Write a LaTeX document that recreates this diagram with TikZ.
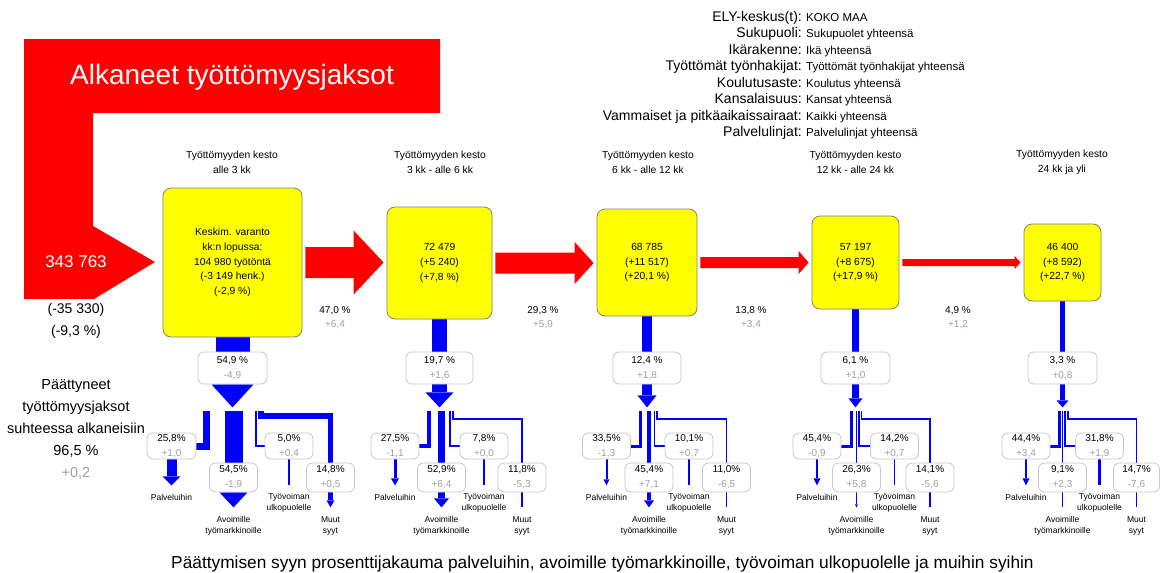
\documentclass[tikz,border=0pt]{standalone}
\usepackage{fontspec}
\setmainfont{Liberation Sans}
\usetikzlibrary{calc,backgrounds}
\definecolor{flowred}{RGB}{255,0,0}
\definecolor{flowblue}{RGB}{0,0,255}
\definecolor{boxyellow}{RGB}{255,255,0}
\definecolor{deltagray}{RGB}{160,160,160}
\newcommand\fsz[2]{\fontsize{#1}{#2}\selectfont}
\newcommand\dg[1]{\textcolor{deltagray}{#1}}
% start, stem length, stem width, half head width, head length
\newcommand\bluedown[5]{%
  \fill[flowblue] ($#1+(-#3/2,0)$) rectangle ($#1+(#3/2,#2)$);
  \fill[flowblue] ($#1+(-#4,#2)$) -- ($#1+(#4,#2)$) -- ($#1+(0,#2+#5)$) -- cycle;}
% from node, to node, shaft width, head width, head length
\newcommand\redarrow[5]{%
  \fill[flowred] let \p1=($(#1.east)+(3,0)$), \p2=($(#2.west)+(-3,0)$) in
   (\x1,{\y1+#3/2}) -- ({\x2-#5},{\y1+#3/2}) -- ({\x2-#5},{\y1+#4/2}) -- (\x2,\y1)
   -- ({\x2-#5},{\y1-#4/2}) -- ({\x2-#5},{\y1-#3/2}) -- (\x1,{\y1-#3/2}) -- cycle;}
\begin{document}
\begin{tikzpicture}[x=1pt,y=-1pt,
  ybox/.style={draw=black!50, fill=boxyellow, rounded corners=8pt, line width=0.8pt, inner sep=0pt, align=center, font=\fsz{10.3}{14.7}},
  pbox/.style={draw=black!22, fill=white, rounded corners=6pt, line width=0.8pt, inner sep=0pt, align=center, font=\fsz{10}{15}},
  bbox/.style={pbox, minimum width=48pt},
  pt/.style={bbox, minimum height=26pt},
  am/.style={bbox, minimum height=29pt},
  hdr/.style={inner sep=0pt, align=center, font=\fsz{10.3}{15}},
  flowlab/.style={inner sep=0pt, align=center, font=\fsz{10}{14}},
  endlab/.style={inner sep=0pt, align=center, font=\fsz{8.5}{11}},
  legkey/.style={inner sep=0pt, anchor=base east, font=\fsz{14}{16}},
  legval/.style={inner sep=0pt, anchor=base west, font=\fsz{11.5}{14}},
  flow/.style={draw=flowblue}
]
\useasboundingbox (0,0) rectangle (1160,573);

% ---- big start arrow
\fill[flowred] (24,39) -- (440,39) -- (440,113) -- (93,113) -- (93,226) -- (155,262) -- (94,299) -- (24,299) -- cycle;
\node[text=white, font=\fsz{28}{32}, inner sep=0pt, anchor=base] (title) at (232,84) {Alkaneet työttömyysjaksot};
\node[text=white, font=\fsz{17}{20}, inner sep=0pt] (start) at (76,262) {343 763};
\node[font=\fsz{14}{22}, inner sep=0pt, align=center] (startd) at (76,321) {(-35 330)\\(-9,3 \%)};
\node[font=\fsz{14.5}{22}, inner sep=0pt, align=center] (ended) at (76,429) {Päättyneet\\työttömyysjaksot\\suhteessa alkaneisiin\\96,5 \%\\\dg{+0,2}};

% ---- legend
\foreach \k/\v [count=\i from 0] in {ELY-keskus(t):/KOKO MAA, Sukupuoli:/Sukupuolet yhteensä, Ikärakenne:/Ikä yhteensä, Työttömät työnhakijat:/Työttömät työnhakijat yhteensä, Koulutusaste:/Koulutus yhteensä, Kansalaisuus:/Kansat yhteensä, Vammaiset ja pitkäaikaissairaat:/Kaikki yhteensä, Palvelulinjat:/Palvelulinjat yhteensä} {
  \node[legkey] (lk\i) at (802,{21.5+16.45*\i}) {\k};
  \node[legval] (lv\i) at (806,{21.5+16.45*\i}) {\v};
}

% ---- headers
\node[hdr] (h1) at (232,162.5) {Työttömyyden kesto\\alle 3 kk};
\node[hdr] (h2) at (440,162.5) {Työttömyyden kesto\\3 kk - alle 6 kk};
\node[hdr] (h3) at (648,162.5) {Työttömyyden kesto\\6 kk - alle 12 kk};
\node[hdr] (h4) at (855.5,162.5) {Työttömyyden kesto\\12 kk - alle 24 kk};
\node[hdr] (h5) at (1062,162.5) {Työttömyyden kesto\\24 kk ja yli};

% ---- yellow boxes
\node[ybox, minimum width=139pt, minimum height=149pt] (box1) at (232.5,262.5) {Keskim. varanto\\kk:n lopussa:\\104 980 työtöntä\\(-3 149 henk.)\\(-2,9 \%)};
\node[ybox, minimum width=105pt, minimum height=112pt] (box2) at (439.5,263) {72 479\\(+5 240)\\(+7,8 \%)};
\node[ybox, minimum width=100pt, minimum height=107pt] (box3) at (647,262.5) {68 785\\(+11 517)\\(+20,1 \%)};
\node[ybox, minimum width=87pt, minimum height=93pt] (box4) at (855.5,262.5) {57 197\\(+8 675)\\(+17,9 \%)};
\node[ybox, minimum width=77pt, minimum height=77pt] (box5) at (1062.5,262.5) {46 400\\(+8 592)\\(+22,7 \%)};

% ---- transition arrows and labels
\redarrow{box1}{box2}{31}{64}{30}
\redarrow{box2}{box3}{21}{42}{19}
\redarrow{box3}{box4}{11}{23}{10}
\redarrow{box4}{box5}{7}{13}{6}
\node[flowlab] (f1) at (335,318) {47,0 \%\\\dg{+6,4}};
\node[flowlab] (f2) at (543,318) {29,3 \%\\\dg{+5,9}};
\node[flowlab] (f3) at (751,318) {13,8 \%\\\dg{+3,4}};
\node[flowlab] (f4) at (958,318) {4,9 \%\\\dg{+1,2}};

% ---- ended-share boxes
\node[pbox, minimum width=69pt, minimum height=32pt] (pc1) at (232.5,368) {54,9 \%\\\dg{-4,9}};
\node[pbox, minimum width=67pt, minimum height=32pt] (pc2) at (439.5,368) {19,7 \%\\\dg{+1,6}};
\node[pbox, minimum width=68pt, minimum height=32pt] (pc3) at (647,368) {12,4 \%\\\dg{+1,8}};
\node[pbox, minimum width=69pt, minimum height=32pt] (pc4) at (855.5,368) {6,1 \%\\\dg{+1,0}};
\node[pbox, minimum width=69pt, minimum height=32pt] (pc5) at (1062.5,368) {3,3 \%\\\dg{+0,8}};

% ---- branch boxes
\node[pt, minimum width=49pt] (p1) at (171.5,446) {25,8\%\\\dg{+1,0}};
\node[am] (a1) at (233.5,477.5) {54,5\%\\\dg{-1,9}};
\node[pt] (t1) at (289,446) {5,0\%\\\dg{+0,4}};
\node[am] (m1) at (330.5,477.5) {14,8\%\\\dg{+0,5}};

\node[pt] (p2) at (395,446) {27,5\%\\\dg{-1,1}};
\node[am] (a2) at (441.5,477.5) {52,9\%\\\dg{+6,4}};
\node[pt] (t2) at (484,446) {7,8\%\\\dg{+0,0}};
\node[am] (m2) at (522,477.5) {11,8\%\\\dg{-5,3}};

\node[pt] (p3) at (606.5,446) {33,5\%\\\dg{-1,3}};
\node[am] (a3) at (649,477.5) {45,4\%\\\dg{+7,1}};
\node[pt] (t3) at (689,446) {10,1\%\\\dg{+0,7}};
\node[am] (m3) at (726.5,477.5) {11,0\%\\\dg{-6,5}};

\node[pt] (p4) at (817,446) {45,4\%\\\dg{-0,9}};
\node[am] (a4) at (856.5,477.5) {26,3\%\\\dg{+5,8}};
\node[pt] (t4) at (894.5,446) {14,2\%\\\dg{+0,7}};
\node[am] (m4) at (930,477.5) {14,1\%\\\dg{-5,6}};

\node[pt] (p5) at (1026,446) {44,4\%\\\dg{+3,4}};
\node[am] (a5) at (1062.5,477.5) {9,1\%\\\dg{+2,3}};
\node[pt] (t5) at (1099.5,446) {31,8\%\\\dg{+1,9}};
\node[am, minimum width=46pt] (m5) at (1136.5,477.5) {14,7\%\\\dg{-7,6}};

% ---- end labels
\foreach \c in {1,...,5} {
  \node[endlab] (lp\c) at ($(p\c.south)+(0,38)$) {Palveluihin};
  \node[endlab] (lt\c) at ($(t\c.south)+(0,43.5)$) {Työvoiman\\ulkopuolelle};
  \node[endlab] (la\c) at ($(a\c.south)+(0,33.5)$) {Avoimille\\työmarkkinoille};
  \node[endlab] (lm\c) at ($(m\c.south)+(0,33.5)$) {Muut\\syyt};
}

% ---- caption
\node[font=\fsz{17.3}{19}, inner sep=0pt, anchor=base] (caption) at (602.5,568) {Päättymisen syyn prosenttijakauma palveluihin, avoimille työmarkkinoille, työvoiman ulkopuolelle ja muihin syihin};

\coordinate (brtop) at (0,411);

% ---- blue flows (behind boxes)
\begin{pgfonlayer}{background}
% column 1
\draw[flow, line width=34pt] (box1.south) -- (pc1.north);
\bluedown{(pc1.south)}{0}{34}{21}{23}
\draw[flow, line width=7pt] (206.5,411) |- (p1.east);
\draw[flow, line width=18pt] (a1.north |- brtop) -- (a1.north);
\draw[flow, line width=2pt] (255.5,411) |- (t1.west);
\draw[flow, line width=5.5pt] (260.8,411) -- (260.8,416) -| (m1.north);
\bluedown{(p1.south)}{17}{10}{9}{9}
\bluedown{(a1.south)}{0}{18}{14}{15}
\bluedown{(t1.south)}{26}{2}{0}{0}
\bluedown{(m1.south)}{8}{5}{4}{7}
% column 2
\draw[flow, line width=15pt] (box2.south) -- (pc2.north);
\bluedown{(pc2.south)}{8}{15}{14}{15}
\draw[flow, line width=4pt] (429,411) |- (p2.east);
\draw[flow, line width=7pt] (a2.north |- brtop) -- (a2.north);
\draw[flow, line width=2pt] (450,411) |- (t2.west);
\draw[flow, line width=2pt] (452.8,411) -- (452.8,419) -| (m2.north);
\bluedown{(p2.south)}{19}{3}{4}{7}
\bluedown{(a2.south)}{6}{7}{7.5}{9}
\bluedown{(t2.south)}{26}{2}{0}{0}
\bluedown{(m2.south)}{15}{2}{0}{0}
% column 3
\draw[flow, line width=10pt] (box3.south) -- (pc3.north);
\bluedown{(pc3.south)}{11}{10}{9.5}{12}
\draw[flow, line width=3pt] (640.5,411) |- (p3.east);
\draw[flow, line width=4pt] (a3.north |- brtop) -- (a3.north);
\draw[flow, line width=1.5pt] (654.3,411) |- (t3.west);
\draw[flow, line width=1.5pt] (656.9,411) -- (656.9,419) -| (m3.north);
\bluedown{(p3.south)}{20}{2}{3}{6}
\bluedown{(a3.south)}{8}{4}{5}{7}
\bluedown{(t3.south)}{26}{1.5}{0}{0}
\bluedown{(m3.south)}{15}{1.5}{0}{0}
% column 4
\draw[flow, line width=7pt] (box4.south) -- (pc4.north);
\bluedown{(pc4.south)}{14}{7}{7}{9}
\draw[flow, line width=3pt] (851.5,411) |- (p4.east);
\draw[flow, line width=1.5pt] (a4.north |- brtop) -- (a4.north);
\draw[flow, line width=1.5pt] (858.8,411) |- (t4.west);
\draw[flow, line width=1.5pt] (861.5,411) -- (861.5,419) -| (m4.north);
\bluedown{(p4.south)}{19}{2.5}{3.5}{7}
\bluedown{(a4.south)}{12}{1.5}{1.5}{3}
\bluedown{(t4.south)}{26}{1.5}{0}{0}
\bluedown{(m4.south)}{15}{1.5}{0}{0}
% column 5
\draw[flow, line width=5pt] (box5.south) -- (pc5.north);
\bluedown{(pc5.south)}{16}{5}{6}{7}
\draw[flow, line width=3pt] (1059.5,411) |- (p5.east);
\draw[flow, line width=1pt] (a5.north |- brtop) -- (a5.north);
\draw[flow, line width=2.5pt] (1065,411) |- (t5.west);
\draw[flow, line width=1.2pt] (1068,411) -- (1068,419) -| (m5.north);
\bluedown{(p5.south)}{19}{2.5}{3.5}{7}
\bluedown{(a5.south)}{15}{1}{0}{0}
\bluedown{(t5.south)}{26}{3}{0}{0}
\bluedown{(m5.south)}{15}{1.2}{0}{0}
\end{pgfonlayer}
\end{tikzpicture}
\end{document}
